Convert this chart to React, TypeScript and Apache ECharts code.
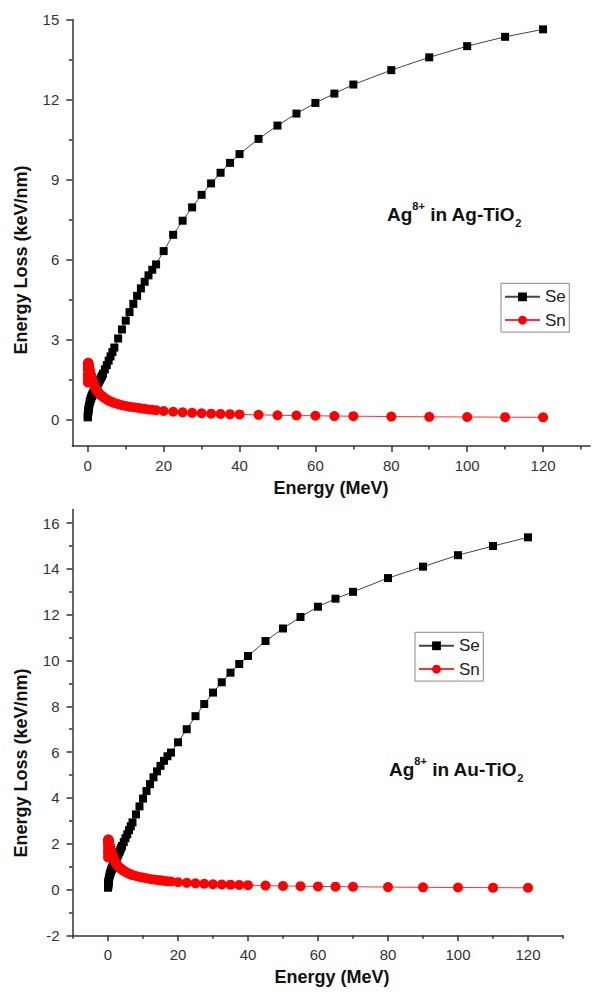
import React, { useEffect, useRef } from 'react';
import * as echarts from 'echarts';

// Ion energy (MeV)
const energy = [0.01, 0.015, 0.02, 0.03, 0.04, 0.05, 0.07, 0.1, 0.125, 0.15, 0.2, 0.25, 0.3, 0.4, 0.5, 0.6, 0.7, 0.8, 0.9, 1, 1.1, 1.2, 1.3, 1.4, 1.5, 1.6, 1.7, 1.8, 2, 2.25, 2.5, 2.75, 3, 3.25, 3.5, 3.75, 4, 4.5, 5, 5.5, 6, 6.5, 7, 8, 9, 10, 11, 12, 13, 14, 15, 16, 17, 18, 20, 22.5, 25, 27.5, 30, 32.5, 35, 37.5, 40, 45, 50, 55, 60, 65, 70, 80, 90, 100, 110, 120];

// Ag8+ in Ag-TiO2 (keV/nm)
const seTop = [0.07, 0.09, 0.11, 0.14, 0.16, 0.18, 0.22, 0.26, 0.29, 0.32, 0.37, 0.42, 0.46, 0.54, 0.62, 0.67, 0.72, 0.77, 0.81, 0.85, 0.88, 0.91, 0.94, 0.97, 1.00, 1.03, 1.06, 1.09, 1.14, 1.21, 1.28, 1.35, 1.42, 1.49, 1.56, 1.63, 1.71, 1.87, 2.03, 2.20, 2.36, 2.52, 2.69, 3.03, 3.37, 3.70, 4.02, 4.33, 4.63, 4.91, 5.16, 5.40, 5.61, 5.81, 6.31, 6.92, 7.45, 7.95, 8.42, 8.85, 9.25, 9.62, 9.95, 10.52, 11.02, 11.47, 11.87, 12.22, 12.56, 13.10, 13.58, 14.00, 14.35, 14.63];
const snTop = [1.38, 1.55, 1.68, 1.85, 1.95, 2.02, 2.08, 2.12, 2.12, 2.11, 2.08, 2.04, 2.00, 1.92, 1.85, 1.78, 1.72, 1.66, 1.61, 1.56, 1.51, 1.46, 1.42, 1.38, 1.34, 1.31, 1.27, 1.24, 1.17, 1.11, 1.06, 1.01, 0.97, 0.93, 0.90, 0.87, 0.84, 0.79, 0.74, 0.70, 0.67, 0.64, 0.61, 0.57, 0.53, 0.50, 0.47, 0.45, 0.43, 0.41, 0.39, 0.37, 0.355, 0.34, 0.31, 0.28, 0.26, 0.24, 0.225, 0.21, 0.20, 0.19, 0.18, 0.165, 0.15, 0.14, 0.13, 0.12, 0.115, 0.10, 0.092, 0.085, 0.078, 0.073];

// Ag8+ in Au-TiO2 (keV/nm)
const seBot = [0.08, 0.10, 0.12, 0.14, 0.17, 0.19, 0.23, 0.27, 0.31, 0.34, 0.39, 0.44, 0.48, 0.56, 0.63, 0.69, 0.74, 0.79, 0.83, 0.87, 0.90, 0.94, 0.97, 1.00, 1.03, 1.07, 1.10, 1.14, 1.21, 1.29, 1.38, 1.47, 1.55, 1.64, 1.72, 1.81, 1.90, 2.07, 2.24, 2.41, 2.59, 2.76, 2.93, 3.28, 3.63, 3.97, 4.30, 4.60, 4.90, 5.16, 5.40, 5.62, 5.82, 5.98, 6.43, 7.00, 7.57, 8.10, 8.60, 9.05, 9.47, 9.85, 10.20, 10.85, 11.40, 11.90, 12.35, 12.70, 13.00, 13.60, 14.10, 14.60, 15.00, 15.38];
const snBot = [1.40, 1.58, 1.72, 1.90, 2.00, 2.07, 2.14, 2.18, 2.18, 2.17, 2.14, 2.10, 2.06, 1.98, 1.91, 1.84, 1.77, 1.71, 1.66, 1.61, 1.56, 1.51, 1.47, 1.43, 1.39, 1.35, 1.31, 1.28, 1.21, 1.15, 1.09, 1.04, 1.00, 0.96, 0.93, 0.90, 0.87, 0.82, 0.77, 0.73, 0.69, 0.66, 0.63, 0.59, 0.55, 0.52, 0.49, 0.46, 0.44, 0.42, 0.40, 0.38, 0.365, 0.35, 0.32, 0.29, 0.27, 0.25, 0.23, 0.22, 0.21, 0.20, 0.19, 0.17, 0.155, 0.145, 0.135, 0.125, 0.12, 0.105, 0.095, 0.088, 0.081, 0.075];

// Tick values
const xTicks = [0, 20, 40, 60, 80, 100, 120];
const topXMinor = [10, 30, 50, 70, 90, 110, 130];
const botXMinor = [-10, 10, 30, 50, 70, 90, 110, 130];
const topYTicks = [0, 3, 6, 9, 12, 15];
const topYMinor = [1.5, 4.5, 7.5, 10.5, 13.5];
const botYTicks = [-2, 0, 2, 4, 6, 8, 10, 12, 14, 16];
const botYMinor = [-1, 1, 3, 5, 7, 9, 11, 13, 15];

const seriesNames = ['Se', 'Sn'];
const xTitle = 'Energy (MeV)';
const yTitle = 'Energy Loss (keV/nm)';

const FONT = '"Liberation Sans", Arial, Helvetica, sans-serif';
const AXIS_COLOR = '#333';

function pairs(xs: number[], ys: number[]) {
  return xs.map((x, i) => [x, ys[i]]);
}

function mainAxis(gridIndex: number, min: number, max: number, ticks: number[], isX: boolean) {
  return {
    type: 'value',
    gridIndex,
    min,
    max,
    position: isX ? 'bottom' : 'left',
    axisLine: { show: true, onZero: false, lineStyle: { color: AXIS_COLOR, width: 1.5 } },
    axisTick: { show: true, inside: false, length: 6, customValues: ticks, lineStyle: { color: AXIS_COLOR, width: 1.5 } },
    axisLabel: { show: true, customValues: ticks, margin: isX ? 12 : 13, color: '#333', fontSize: 15, fontFamily: FONT },
    splitLine: { show: false },
  };
}

function minorAxis(gridIndex: number, min: number, max: number, ticks: number[], isX: boolean) {
  return {
    type: 'value',
    gridIndex,
    min,
    max,
    position: isX ? 'bottom' : 'left',
    axisLine: { show: false, onZero: false },
    axisTick: { show: true, inside: false, length: 3.5, customValues: ticks, lineStyle: { color: AXIS_COLOR, width: 1.5 } },
    axisLabel: { show: false },
    splitLine: { show: false },
  };
}

function lineSeries(name: string, xi: number, yi: number, data: number[][], isSe: boolean) {
  return {
    name,
    type: 'line',
    xAxisIndex: xi,
    yAxisIndex: yi,
    data,
    showAllSymbol: true,
    symbol: isSe ? 'rect' : 'circle',
    symbolSize: isSe ? 8 : 10,
    itemStyle: { color: isSe ? '#000000' : '#ff0000' },
    lineStyle: { color: isSe ? '#444444' : '#ff3030', width: 1 },
    emphasis: { disabled: true },
  };
}

function legendAt(left: number, top: number) {
  return {
    left,
    top,
    orient: 'vertical',
    data: seriesNames,
    itemWidth: 35,
    itemHeight: 11,
    itemGap: 3.3,
    padding: [3.5, 3.5, 2, 3],
    borderColor: '#888',
    borderWidth: 1,
    selectedMode: false,
    textStyle: { fontSize: 17, color: '#222', fontFamily: FONT, lineHeight: 20 },
  };
}

function vTitle(x: number, y: number) {
  return {
    type: 'text',
    x,
    y,
    rotation: Math.PI / 2,
    style: {
      text: yTitle,
      font: `bold 18px ${FONT}`,
      fill: '#111',
      align: 'center',
      verticalAlign: 'middle',
      textAlign: 'center',
      textVerticalAlign: 'middle',
    },
  };
}

function hTitle(x: number, y: number) {
  return {
    type: 'text',
    x,
    y,
    style: {
      text: xTitle,
      font: `bold 18px ${FONT}`,
      fill: '#111',
      align: 'center',
      verticalAlign: 'middle',
      textAlign: 'center',
      textVerticalAlign: 'middle',
    },
  };
}

function annotation(x: number, y: number, host: string) {
  const base = { fontFamily: FONT, fontWeight: 'bold', fill: '#111' };
  return {
    type: 'text',
    x,
    y,
    style: {
      text: `{a|Ag}{s|8+}{a| in ${host}-TiO}{d|2}`,
      align: 'left',
      verticalAlign: 'top',
      textAlign: 'left',
      textVerticalAlign: 'top',
      rich: {
        a: { ...base, fontSize: 19, lineHeight: 28 },
        s: { ...base, fontSize: 11, lineHeight: 16, verticalAlign: 'top' },
        d: { ...base, fontSize: 11, lineHeight: 8, verticalAlign: 'bottom' },
      },
    },
  };
}

export default function App() {
  const ref = useRef<HTMLDivElement>(null);

  useEffect(() => {
    if (!ref.current) return;
    const chart = echarts.init(ref.current, null, { renderer: 'svg' });
    const option: any = {
      animation: false,
      backgroundColor: '#ffffff',
      textStyle: { fontFamily: FONT },
      grid: [
        { left: 72.3, top: 19.5, width: 517.8, height: 426.4, containLabel: false },
        { left: 72.5, top: 509.4, width: 490.5, height: 425.9, containLabel: false },
      ],
      xAxis: [
        mainAxis(0, -4.08, 132.4, xTicks, true),
        minorAxis(0, -4.08, 132.4, topXMinor, true),
        mainAxis(1, -10.14, 130, xTicks, true),
        minorAxis(1, -10.14, 130, botXMinor, true),
      ],
      yAxis: [
        mainAxis(0, -1, 15, topYTicks, false),
        minorAxis(0, -1, 15, topYMinor, false),
        mainAxis(1, -2, 16.6, botYTicks, false),
        minorAxis(1, -2, 16.6, botYMinor, false),
      ],
      legend: [legendAt(501, 283.3), legendAt(415, 632.3)],
      series: [
        lineSeries(seriesNames[0], 0, 0, pairs(energy, seTop), true),
        lineSeries(seriesNames[1], 0, 0, pairs(energy, snTop), false),
        lineSeries(seriesNames[0], 2, 2, pairs(energy, seBot), true),
        lineSeries(seriesNames[1], 2, 2, pairs(energy, snBot), false),
      ],
      graphic: [
        vTitle(21, 260),
        vTitle(21, 763),
        hTitle(331, 488),
        hTitle(332, 977),
        annotation(387, 200, 'Ag'),
        annotation(389, 755, 'Au'),
      ],
    };
    chart.setOption(option);
    return () => chart.dispose();
  }, []);

  return (
    <div
      ref={ref}
      style={{ position: 'absolute', left: 0, top: 0, width: 593, height: 999, background: '#fff' }}
    />
  );
}
